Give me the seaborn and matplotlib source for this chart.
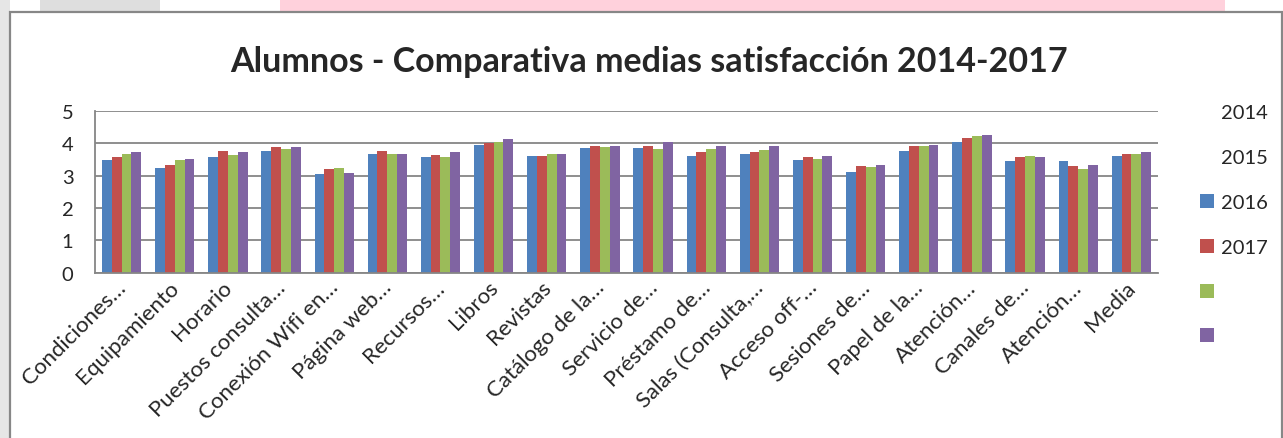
import numpy as np
import pandas as pd
import matplotlib
matplotlib.use('Agg')
import matplotlib.pyplot as plt
import matplotlib.transforms as mtransforms
import seaborn as sns
from matplotlib.lines import Line2D
from matplotlib.patches import Rectangle

# Datos
categorias = ['Condiciones…', 'Equipamiento', 'Horario', 'Puestos consulta…',
              'Conexión Wifi en…', 'Página web…', 'Recursos…', 'Libros', 'Revistas',
              'Catálogo de la…', 'Servicio de…', 'Préstamo de…', 'Salas (Consulta,…',
              'Acceso off-…', 'Sesiones de…', 'Papel de la…', 'Atención…',
              'Canales de…', 'Atención…', 'Media']
anios = ['2014', '2015', '2016', '2017']
v2014 = [3.47, 3.25, 3.58, 3.75, 3.05, 3.67, 3.58, 3.95, 3.61, 3.86,
         3.86, 3.62, 3.67, 3.47, 3.12, 3.75, 4.04, 3.44, 3.44, 3.60]
v2015 = [3.57, 3.34, 3.75, 3.89, 3.21, 3.77, 3.64, 4.02, 3.61, 3.92,
         3.92, 3.73, 3.73, 3.58, 3.30, 3.92, 4.16, 3.58, 3.29, 3.67]
v2016 = [3.66, 3.48, 3.64, 3.82, 3.24, 3.67, 3.58, 4.04, 3.67, 3.89,
         3.82, 3.82, 3.79, 3.52, 3.27, 3.92, 4.23, 3.61, 3.21, 3.67]
v2017 = [3.73, 3.52, 3.72, 3.89, 3.08, 3.67, 3.72, 4.13, 3.67, 3.92,
         4.04, 3.92, 3.91, 3.61, 3.33, 3.95, 4.26, 3.58, 3.33, 3.73]
colores = ['#4F81BD', '#C0504D', '#9BBB59', '#8064A2']
titulo = 'Alumnos - Comparativa medias satisfacción 2014-2017'

df = pd.DataFrame({
    'pos': np.tile(np.arange(len(categorias)), len(anios)),
    'anio': np.repeat(anios, len(categorias)),
    'valor': v2014 + v2015 + v2016 + v2017,
})

sns.set_style('white')
plt.rcParams['font.family'] = ['Lato', 'DejaVu Sans']

W, H = 1283, 439
fig = plt.figure(figsize=(W / 100, H / 100), dpi=100)


def rect_px(x0, y0, x1, y1, **kw):
    # rectangulo en pixeles (origen arriba a la izquierda)
    r = Rectangle((x0 / W, 1 - y1 / H), (x1 - x0) / W, (y1 - y0) / H,
                  transform=fig.transFigure, zorder=-5, **kw)
    fig.add_artist(r)


# fondo de la pagina
rect_px(0, 0, 10, H, facecolor='#e6e6e6', linewidth=0)
rect_px(40, 0, 160, 12, facecolor='#dedede', linewidth=0)
rect_px(280, 0, 1225, 12, facecolor='#ffd1dc', linewidth=0)
# marco del grafico
rect_px(10, 12.5, 1282, H + 5, facecolor='white', edgecolor='#878787', linewidth=1.6)

ax = fig.add_axes([95 / W, 1 - 273.7 / H, (1158 - 95) / W, (273.7 - 112) / H])
ax.set_facecolor('none')
sns.barplot(data=df, x='pos', y='valor', hue='anio', palette=colores, width=0.74,
            saturation=1, linewidth=0, legend=False, ax=ax)

ax.set_xlim(-0.5, len(categorias) - 0.5)
ax.set_ylim(0, 5)
ax.set_yticks(range(6))
ax.set_xticks(range(len(categorias)))
ax.set_xticklabels(categorias, rotation=45, ha='right', rotation_mode='anchor', fontsize=16)
ax.set_xticks(np.arange(-0.5, len(categorias), 1), minor=True)
ax.set_xlabel('')
ax.set_ylabel('')
ax.tick_params(axis='x', which='major', length=0, pad=3)
ax.tick_params(axis='x', which='minor', length=6, width=1.3, color='#868686', direction='out')
ax.tick_params(axis='y', length=6.5, width=1.3, color='#868686', direction='out', pad=9, labelsize=14.5)
ax.yaxis.grid(True, color='#868686', linewidth=1.3)
ax.set_axisbelow(True)
for s in ['top', 'right']:
    ax.spines[s].set_visible(False)
for s in ['left', 'bottom']:
    ax.spines[s].set_color('#868686')
    ax.spines[s].set_linewidth(1.3)

# desplazar un poco las etiquetas a la izquierda
desp = mtransforms.ScaledTranslation(-6 / 100, 0, fig.dpi_scale_trans)
for lbl in ax.get_xticklabels():
    lbl.set_transform(lbl.get_transform() + desp)

fig.text(649.5 / W, 1 - 62 / H, titulo, ha='center', va='center', fontsize=24.5, fontweight='bold')

# leyenda (tal cual aparece en el original, desplazada)
handles = [Line2D([], [], linestyle='') for _ in range(2)]
handles += [Line2D([], [], linestyle='', marker='s', markersize=9.5, color=c, markeredgewidth=0)
            for c in colores]
labels = anios + ['', '']
fig.legend(handles, labels, loc='upper left', bbox_to_anchor=(1196.5 / W, 1 - 105 / H),
           frameon=False, fontsize=14.5, labelspacing=1.38, handlelength=1.0,
           handletextpad=0.2, borderpad=0, borderaxespad=0)

fig.savefig('out.png', dpi=100)
